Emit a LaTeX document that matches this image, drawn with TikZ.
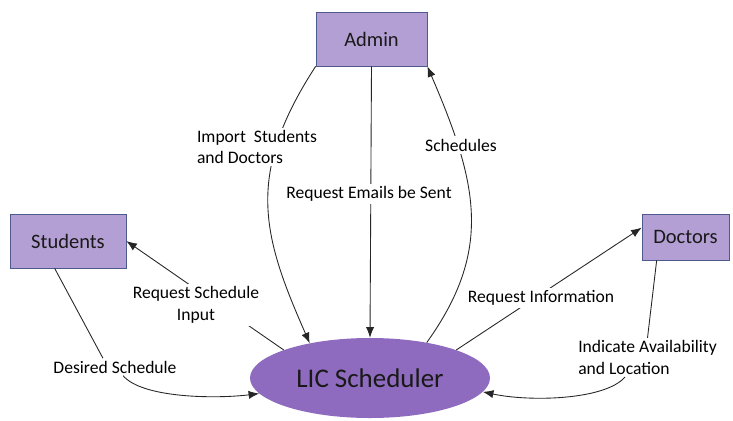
\documentclass[tikz,border=0pt]{standalone}
\usepackage{fontspec}
\setmainfont{Carlito}
\usetikzlibrary{arrows.meta,shapes.geometric}
\definecolor{boxfill}{HTML}{B39FD3}
\definecolor{boxline}{HTML}{4E5A8E}
\definecolor{ovalfill}{HTML}{8E6BBE}

\begin{document}
\begin{tikzpicture}[x=0.03cm,y=-0.03cm,
  actor/.style={draw=boxline,fill=boxfill,line width=0.6pt,text=black!90,font=\fontsize{17.5}{20}\selectfont},
  flow/.style={line width=0.75pt,draw=black!85},
  arr/.style={flow,-{Latex[length=9pt,width=7pt]}},
  lbl/.style={fill=white,inner sep=2pt,font=\fontsize{15}{18.5}\selectfont}]
\useasboundingbox (0,0) rectangle (733,420);

\node[actor,minimum width=3.33cm,minimum height=1.62cm] (admin) at (371.5,39) {Admin};
\node[actor,minimum width=3.48cm,minimum height=1.62cm] (students) at (68,241) {Students};
\node[actor,minimum width=2.61cm,minimum height=1.38cm] (doctors) at (685.5,237) {Doctors};
\node[ellipse,fill=ovalfill,minimum width=7.2cm,minimum height=2.4cm,inner sep=0pt,
  text=black!90,font=\fontsize{23}{26}\selectfont] (lic) at (370,378) {LIC Scheduler};

\node[lbl] (lDes) at (115,367) {Desired Schedule};
\node[lbl,align=left] (lInd) at (647.5,357.5) {Indicate Availability\\and Location};

\draw[arr] (admin.south) -- (lic.north);
\draw[arr] (admin.south west) .. controls (245,175) and (262,235) .. (lic.150);
\draw[arr] (lic.32) .. controls (493,250) and (478,184) .. (admin.south east);
\draw[arr] (lic.162) -- (students.east);
\draw[arr] (lic.18) -- (doctors.168);
\draw[flow] (students.244) -- (lDes.144);
\draw[arr] (lDes.-47) .. controls (142,398) and (215,399) .. (lic.188);
\draw[flow] (doctors.219) -- (lInd.north);
\draw[arr] (lInd.221) .. controls (605,400) and (530,402) .. (lic.-7);

\node[lbl,align=left] (lImp) at (257,147) {Import~~Students\\and Doctors};
\node[lbl] (lEmail) at (369,194) {Request Emails be Sent};
\node[lbl] (lSched) at (461,145) {Schedules};
\node[lbl,align=center] (lReq) at (196,305) {Request Schedule\\Input};
\node[lbl] (lInfo) at (541,298) {Request Information};
\end{tikzpicture}
\end{document}
